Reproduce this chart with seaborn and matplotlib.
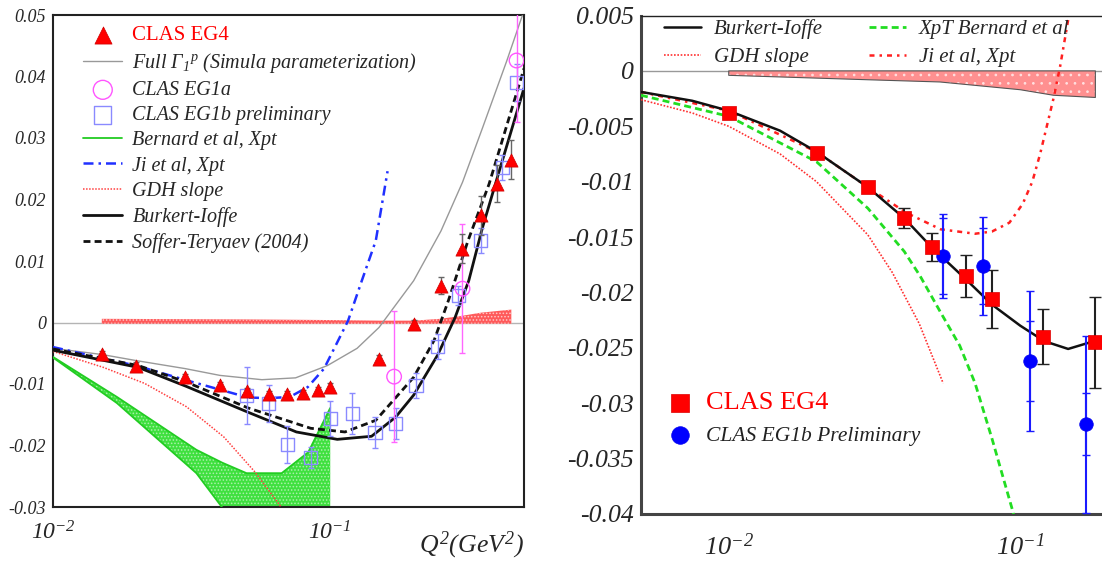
import numpy as np
import pandas as pd
import seaborn as sns
import matplotlib.pyplot as plt
from matplotlib.ticker import MultipleLocator, LogLocator, NullFormatter

# ---------------- left panel : Gamma_1^p vs Q^2 ----------------
eg4_q2 = [0.015, 0.02, 0.03, 0.04, 0.05, 0.06, 0.07, 0.08, 0.09, 0.1, 0.15, 0.2, 0.25, 0.3, 0.35, 0.4, 0.45]
eg4_g1 = [-0.0052, -0.0070, -0.0089, -0.0102, -0.0111, -0.0116, -0.0116, -0.0115, -0.0110, -0.0105,
          -0.0059, -0.0002, 0.0060, 0.0120, 0.0174, 0.0226, 0.0265]
eg4_err = [0.0005, 0.0005, 0.0005, 0.0005, 0.0005, 0.0005, 0.0005, 0.0005, 0.0005, 0.0006,
           0.0006, 0.0006, 0.0014, 0.0024, 0.0032, 0.0030, 0.0031]

eg1a_q2 = [0.17, 0.30, 0.47]
eg1a_g1 = [-0.0088, 0.0055, 0.0426]
eg1a_err = [0.0107, 0.0105, 0.0100]

eg1b_q2 = [0.05, 0.06, 0.07, 0.085, 0.1, 0.12, 0.145, 0.172, 0.204, 0.244, 0.29, 0.349, 0.418, 0.471]
eg1b_g1 = [-0.0119, -0.0132, -0.0198, -0.0220, -0.0156, -0.0148, -0.0179, -0.0164, -0.0102, -0.0039,
           0.0044, 0.0133, 0.0252, 0.0390]
eg1b_err = [0.0046, 0.0030, 0.0030, 0.0017, 0.0028, 0.0033, 0.0025, 0.0025, 0.0020, 0.0020,
            0.0015, 0.0020, 0.0020, 0.0030]

simula_q2 = [0.01, 0.015, 0.02, 0.03, 0.04, 0.0567, 0.075, 0.0977, 0.125, 0.15, 0.2, 0.251, 0.3, 0.354, 0.433, 0.493]
simula_g1 = [-0.0042, -0.0052, -0.0062, -0.0075, -0.0086, -0.0093, -0.0090, -0.0070, -0.0042, -0.0008,
             0.0068, 0.0149, 0.0228, 0.0316, 0.0425, 0.0499]

bi_q2 = [0.01, 0.0203, 0.0303, 0.0506, 0.0755, 0.106, 0.141, 0.172, 0.2, 0.244, 0.282, 0.316, 0.354, 0.41, 0.5]
bi_g1 = [-0.0045, -0.0073, -0.0104, -0.0146, -0.0178, -0.0190, -0.0185, -0.0154, -0.0118, -0.0053,
         0.0008, 0.0068, 0.0154, 0.0251, 0.0381]

st_q2 = [0.01, 0.0203, 0.0303, 0.0506, 0.085, 0.113, 0.146, 0.2, 0.237, 0.267, 0.314, 0.374, 0.5]
st_g1 = [-0.0043, -0.0070, -0.0097, -0.0139, -0.0172, -0.0178, -0.0159, -0.0089, -0.0029, 0.0036,
         0.0133, 0.0225, 0.0413]

ji_q2 = [0.01, 0.0203, 0.0303, 0.0506, 0.0604, 0.0715, 0.083, 0.095, 0.105, 0.116, 0.130, 0.146, 0.161]
ji_g1 = [-0.0040, -0.0071, -0.0094, -0.0122, -0.0123, -0.0121, -0.0105, -0.0075, -0.0036, 0.0003,
         0.0068, 0.0133, 0.0246]

gdh_q2 = [0.01, 0.0152, 0.0214, 0.0303, 0.0413, 0.0535, 0.0665, 0.07]
gdh_g1 = [-0.0047, -0.0073, -0.0099, -0.0137, -0.0186, -0.0243, -0.0300, -0.0320]

bern_q2 = [0.01, 0.017, 0.0329, 0.0408, 0.0499, 0.0668, 0.0833, 0.1]
bern_hi = [-0.0056, -0.0121, -0.0207, -0.0228, -0.0245, -0.0245, -0.0211, -0.0139]
bern_lo = [-0.0057, -0.0131, -0.0245, -0.0301, -0.0360, -0.0450, -0.0500, -0.0550]

syst_q2 = [0.015, 0.05, 0.1, 0.15, 0.2, 0.25, 0.3, 0.35, 0.45]
syst_hi = [0.0006, 0.0005, 0.0004, 0.0003, 0.0003, 0.0006, 0.0011, 0.0016, 0.0021]
syst_lo = [-0.0002, -0.0002, -0.0002, -0.0002, -0.0002, -0.0002, -0.0002, -0.0002, -0.0002]

left_yticks = [-0.03, -0.02, -0.01, 0.0, 0.01, 0.02, 0.03, 0.04, 0.05]
left_ylabels = ['-0.03', '-0.02', '-0.01', '0', '0.01', '0.02', '0.03', '0.04', '0.05']

# ---------------- right panel : low Q^2 zoom ----------------
r_eg4_q2 = [0.01, 0.02, 0.03, 0.04, 0.05, 0.065, 0.08, 0.12, 0.18]
r_eg4_g1 = [-0.0038, -0.0074, -0.0105, -0.0133, -0.0159, -0.0185, -0.0206, -0.0240, -0.0245]
r_eg4_err = [0.0003, 0.0003, 0.0004, 0.0009, 0.0013, 0.0019, 0.0026, 0.0025, 0.0041]

r_eg1b_q2 = [0.0544, 0.0743, 0.1076, 0.168]
r_eg1b_g1 = [-0.0167, -0.0176, -0.0262, -0.0319]
r_eg1b_err = [0.0038, 0.0044, 0.0063, 0.0080]
r_eg1b_stat = [0.0034, 0.0034, 0.0036, 0.0028]

r_bi_q2 = [0.005, 0.0075, 0.01, 0.015, 0.02, 0.03, 0.04, 0.05, 0.065, 0.08, 0.1, 0.121, 0.146, 0.179, 0.2]
r_bi_g1 = [-0.0019, -0.0027, -0.0036, -0.0054, -0.0073, -0.0105, -0.0133, -0.0160, -0.0188, -0.0211, -0.0230,
           -0.0244, -0.0251, -0.0244, -0.0241]

r_xpt_q2 = [0.005, 0.01, 0.02, 0.03, 0.04, 0.0453, 0.0533, 0.062, 0.070, 0.080, 0.0944, 0.1]
r_xpt_g1 = [-0.0022, -0.0041, -0.0082, -0.0124, -0.0163, -0.0185, -0.0218, -0.0248, -0.0282, -0.0332, -0.0398, -0.0430]

r_gdh_q2 = [0.005, 0.0075, 0.01, 0.015, 0.02, 0.03, 0.0364, 0.045, 0.0544]
r_gdh_g1 = [-0.0026, -0.0038, -0.0050, -0.0075, -0.0100, -0.0148, -0.0182, -0.0228, -0.0282]

r_ji_q2 = [0.005, 0.01, 0.02, 0.03, 0.0406, 0.0533, 0.070, 0.080, 0.0918, 0.102, 0.11, 0.117, 0.13, 0.137, 0.146, 0.152]
r_ji_g1 = [-0.0019, -0.0036, -0.0073, -0.0105, -0.0128, -0.0143, -0.0147, -0.0145, -0.0137, -0.0120, -0.0100,
           -0.0075, -0.0025, 0.0004, 0.0046, 0.0065]

r_syst_q2 = [0.01, 0.03, 0.053, 0.1, 0.13, 0.181]
r_syst_lo = [-0.0004, -0.0008, -0.0010, -0.0017, -0.0022, -0.0024]
r_syst_hi = [0.0, 0.0, 0.0, 0.0, 0.0, 0.0]

right_yticks = [-0.04, -0.035, -0.03, -0.025, -0.02, -0.015, -0.01, -0.005, 0.0, 0.005]
right_ylabels = ['-0.04', '-0.035', '-0.03', '-0.025', '-0.02', '-0.015', '-0.01', '-0.005', '0', '0.005']

sns.set_theme(style="white")
plt.rcParams['font.family'] = ['Liberation Serif', 'DejaVu Serif']
plt.rcParams['font.style'] = 'italic'
plt.rcParams['mathtext.fontset'] = 'custom'
plt.rcParams['mathtext.rm'] = 'Liberation Serif:italic'
plt.rcParams['mathtext.it'] = 'Liberation Serif:italic'
plt.rcParams['mathtext.bf'] = 'Liberation Serif:italic:bold'
plt.rcParams['axes.unicode_minus'] = False
plt.rcParams['hatch.linewidth'] = 0.7

fig = plt.figure(figsize=(11.02, 5.61), dpi=100)
axL = fig.add_axes([53 / 1102, 1 - 507 / 561, 471 / 1102, 492 / 561])
axR = fig.add_axes([641 / 1102, 1 - 514 / 561, 467 / 1102, 498.5 / 561])

# ---- left ----
axL.axhline(0, color='#b4b4b4', lw=1, zorder=1)
axL.fill_between(syst_q2, syst_lo, syst_hi, facecolor='#ff5a5a', edgecolor='#ffc8c8', hatch='.....', lw=0, zorder=2)
axL.fill_between(bern_q2, bern_lo, bern_hi, facecolor='#3fe03f', edgecolor='#aaf0aa', hatch='.....', lw=0, zorder=2)
sns.lineplot(x=bern_q2, y=bern_hi, ax=axL, color='#22cc22', lw=1.3, label='Bernard et al, Xpt', zorder=3)
sns.lineplot(x=bern_q2, y=bern_lo, ax=axL, color='#22cc22', lw=1.3, zorder=3)

full_label = r'Full $\Gamma_1{}^p$ (Simula parameterization)'
sns.lineplot(x=simula_q2, y=simula_g1, ax=axL, color='#999999', lw=1.0, label=full_label, zorder=4)
sns.lineplot(x=gdh_q2, y=gdh_g1, ax=axL, color='#ff4040', lw=1.1, linestyle=(0, (1, 1)), label='GDH slope', zorder=4)
sns.lineplot(x=ji_q2, y=ji_g1, ax=axL, color='#2030ff', lw=1.8, linestyle=(0, (4, 2, 1, 2)), label='Ji et al, Xpt', zorder=4)
sns.lineplot(x=st_q2, y=st_g1, ax=axL, color='#111111', lw=2.0, linestyle=(0, (2.5, 1.5)), label='Soffer-Teryaev (2004)', zorder=5)
sns.lineplot(x=bi_q2, y=bi_g1, ax=axL, color='#111111', lw=2.0, label='Burkert-Ioffe', zorder=5)

axL.errorbar(eg1b_q2, eg1b_g1, yerr=eg1b_err, fmt='none', ecolor='#8a8aff', elinewidth=1, capsize=2.5, zorder=6)
sns.scatterplot(x=eg1b_q2, y=eg1b_g1, ax=axL, marker='s', s=90, facecolors='none', edgecolors='#8a8aff',
                linewidth=1, label='CLAS EG1b preliminary', zorder=6)
axL.errorbar(eg1a_q2, eg1a_g1, yerr=eg1a_err, fmt='none', ecolor='#ff66ff', elinewidth=1, capsize=2.5, zorder=6)
sns.scatterplot(x=eg1a_q2, y=eg1a_g1, ax=axL, marker='o', s=110, facecolors='none', edgecolors='#ff55ff',
                linewidth=1, label='CLAS EG1a', zorder=6)
axL.errorbar(eg4_q2, eg4_g1, yerr=eg4_err, fmt='none', ecolor='#666666', elinewidth=1, capsize=2.5, zorder=7)
sns.scatterplot(x=eg4_q2, y=eg4_g1, ax=axL, marker='^', s=90, color='#ff0000', edgecolor='#cc0000',
                linewidth=0.5, label='CLAS EG4', zorder=8)

axL.set_xscale('log')
axL.set_xlim(0.01, 0.5)
axL.set_ylim(-0.03, 0.05)
axL.set_xticks([0.01, 0.1])
axL.set_xticklabels([r'$10^{-2}$', r'$10^{-1}$'])
axL.xaxis.set_minor_locator(LogLocator(base=10, subs=range(2, 10)))
axL.xaxis.set_minor_formatter(NullFormatter())
axL.set_yticks(left_yticks)
axL.set_yticklabels(left_ylabels)
axL.yaxis.set_minor_locator(MultipleLocator(0.002))
axL.tick_params(which='major', direction='in', length=9, width=1, color='#555555', top=False, right=False)
axL.tick_params(which='minor', direction='in', length=5, width=0.8, color='#777777', top=False, right=False)
axL.tick_params(axis='y', labelsize=13, pad=5)
axL.tick_params(axis='x', labelsize=17, pad=10)
for s in axL.spines.values():
    s.set_color('#222222')
    s.set_linewidth(1.5)
axL.set_xlabel('')
axL.set_ylabel('')
fig.text(524 / 1102, 1 - 545 / 561, r'$Q^2(GeV^2)$', ha='right', va='center', fontsize=18.5)

hL, lL = axL.get_legend_handles_labels()
hmap = dict(zip(lL, hL))
orderL = ['CLAS EG4', full_label, 'CLAS EG1a', 'CLAS EG1b preliminary', 'Bernard et al, Xpt',
          'Ji et al, Xpt', 'GDH slope', 'Burkert-Ioffe', 'Soffer-Teryaev (2004)']
legL = axL.legend([hmap[k] for k in orderL], orderL, loc='upper left', bbox_to_anchor=(0.064, 0.978),
                  frameon=False, fontsize=14.5, handlelength=1.95, handletextpad=0.5, labelspacing=0.3,
                  borderaxespad=0, borderpad=0, scatterpoints=1, markerscale=1.3)
legL.get_texts()[0].set_color('#ff0000')
legL.get_texts()[0].set_fontstyle('normal')
legL.get_texts()[0].set_fontsize(15)

# ---- right ----
axR.axhline(0, color='#999999', lw=1, zorder=1)
axR.fill_between(r_syst_q2, r_syst_lo, r_syst_hi, facecolor='#ff9090', edgecolor='#ffe0e0', hatch='..', lw=0, zorder=2)
axR.fill_between(r_syst_q2, r_syst_lo, r_syst_hi, facecolor='none', edgecolor='#555555', lw=0.8, zorder=2)

sns.lineplot(x=r_gdh_q2, y=r_gdh_g1, ax=axR, color='#ff3030', lw=1.2, linestyle=(0, (1, 1)), label='GDH slope', zorder=3)
sns.lineplot(x=r_xpt_q2, y=r_xpt_g1, ax=axR, color='#22dd22', lw=2.0, linestyle=(0, (2.5, 1.5)), label='XpT Bernard et al', zorder=3)
sns.lineplot(x=r_ji_q2, y=r_ji_g1, ax=axR, color='#ff2020', lw=1.8, linestyle=(0, (2, 2, 1, 2)), label='Ji et al, Xpt', zorder=3)
sns.lineplot(x=r_bi_q2, y=r_bi_g1, ax=axR, color='#111111', lw=1.8, label='Burkert-Ioffe', zorder=4)

axR.errorbar(r_eg1b_q2, r_eg1b_g1, yerr=r_eg1b_err, fmt='none', ecolor='#1a1aff', elinewidth=1.5, capsize=3, zorder=5)
axR.errorbar(r_eg1b_q2, r_eg1b_g1, yerr=r_eg1b_stat, fmt='none', ecolor='#1a1aff', elinewidth=1.5, capsize=3, zorder=5)
sns.scatterplot(x=r_eg1b_q2, y=r_eg1b_g1, ax=axR, marker='o', s=95, color='#0000ff', edgecolor='#0000ee',
                linewidth=0.5, label='CLAS EG1b Preliminary', zorder=6)
axR.errorbar(r_eg4_q2, r_eg4_g1, yerr=r_eg4_err, fmt='none', ecolor='#222222', elinewidth=1.5, capsize=4, zorder=5)
sns.scatterplot(x=r_eg4_q2, y=r_eg4_g1, ax=axR, marker='s', s=90, color='#ff0000', edgecolor='#dd0000',
                linewidth=0.5, label='CLAS EG4', zorder=6)

axR.set_xscale('log')
axR.set_xlim(0.005, 0.2)
axR.set_ylim(-0.04, 0.005)
axR.set_xticks([0.01, 0.1])
axR.set_xticklabels([r'$10^{-2}$', r'$10^{-1}$'])
axR.xaxis.set_minor_locator(LogLocator(base=10, subs=range(2, 10)))
axR.xaxis.set_minor_formatter(NullFormatter())
axR.set_yticks(right_yticks)
axR.set_yticklabels(right_ylabels)
axR.yaxis.set_minor_locator(MultipleLocator(0.001))
axR.tick_params(which='major', direction='in', length=10, width=1, color='#555555', top=False, right=False)
axR.tick_params(which='minor', direction='in', length=5, width=0.8, color='#777777', top=False, right=False)
axR.tick_params(axis='y', labelsize=18.5, pad=5)
axR.tick_params(axis='x', labelsize=19, pad=14)
axR.spines['left'].set_linewidth(2.2)
axR.spines['bottom'].set_linewidth(2.2)
axR.spines['left'].set_color('#444444')
axR.spines['bottom'].set_color('#444444')
axR.spines['top'].set_linewidth(1.0)
axR.spines['top'].set_color('#222222')
axR.spines['right'].set_visible(False)
axR.set_xlabel('')
axR.set_ylabel('')

hR, lR = axR.get_legend_handles_labels()
rmap = dict(zip(lR, hR))
orderR = ['Burkert-Ioffe', 'GDH slope', 'XpT Bernard et al', 'Ji et al, Xpt']
legR = axR.legend([rmap[k] for k in orderR], orderR, ncol=2, loc='upper left', bbox_to_anchor=(0.049, 0.993),
                  frameon=False, fontsize=15, handlelength=1.8, handletextpad=0.6, labelspacing=0.42,
                  columnspacing=2.2, borderaxespad=0, borderpad=0)
axR.add_artist(legR)

orderR2 = ['CLAS EG4', 'CLAS EG1b Preliminary']
legR2 = axR.legend([rmap[k] for k in orderR2], orderR2, loc='upper left', bbox_to_anchor=(0.051, 0.245),
                   frameon=False, fontsize=15.5, handlelength=1.4, handletextpad=0.5, labelspacing=0.55,
                   borderaxespad=0, borderpad=0, scatterpoints=1, markerscale=1.3)
t0, t1 = legR2.get_texts()
t0.set_color('#ff0000')
t0.set_fontstyle('normal')
t0.set_fontsize(19)
t1.set_color('#222222')

fig.savefig('out.png', dpi=100)
